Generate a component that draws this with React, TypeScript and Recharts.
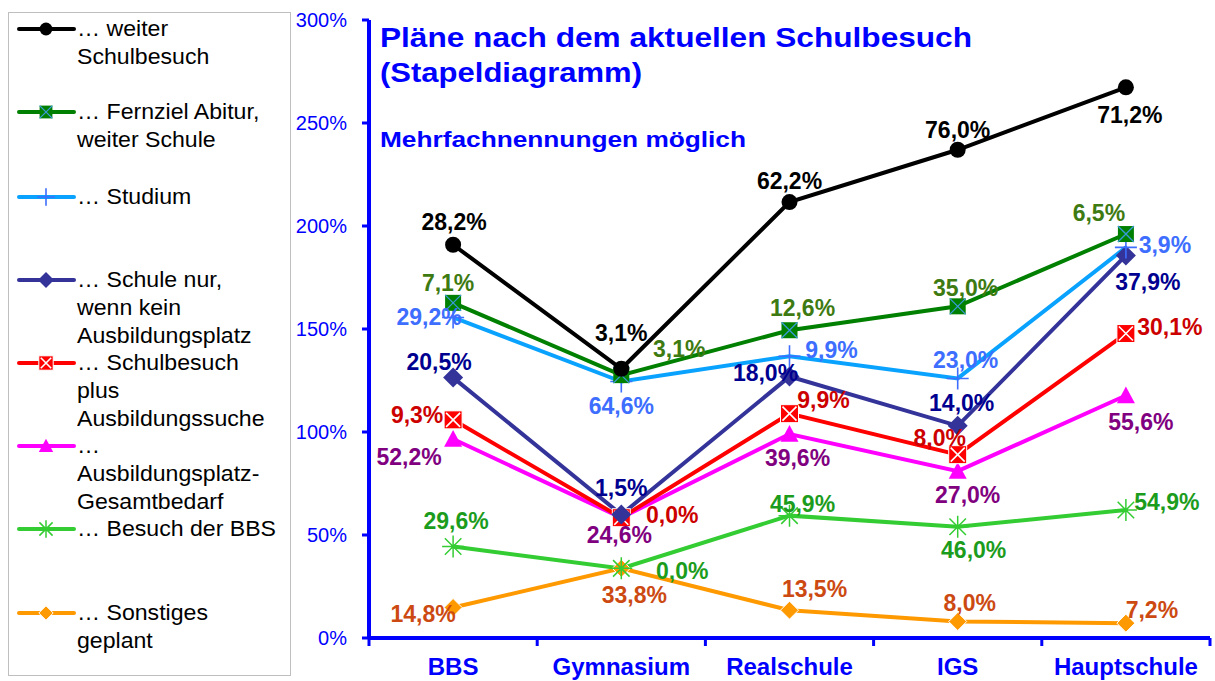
import React from 'react';
import { LineChart, Line, XAxis, YAxis } from 'recharts';

const categories = ['BBS', 'Gymnasium', 'Realschule', 'IGS', 'Hauptschule'];

// Einzelwerte in %, von unten nach oben gestapelt
const sonstiges = [14.8, 33.8, 13.5, 8.0, 7.2];
const besuchBBS = [29.6, 0.0, 45.9, 46.0, 54.9];
const gesamtbedarf = [52.2, 24.6, 39.6, 27.0, 55.6];
const schulbesuchPlus = [9.3, 0.0, 9.9, 8.0, 30.1];
const schuleNur = [20.5, 1.5, 18.0, 14.0, 37.9];
const studium = [29.2, 64.6, 9.9, 23.0, 3.9];
const fernzielAbitur = [7.1, 3.1, 12.6, 35.0, 6.5];
const weiterSchulbesuch = [28.2, 3.1, 62.2, 76.0, 71.2];

const yTicks = [0, 50, 100, 150, 200, 250, 300];

const W = 1215;
const H = 681;
const PLOT_LEFT = 369;
const PLOT_RIGHT = 1210;
const HALF_BAND = (PLOT_RIGHT - PLOT_LEFT) / categories.length / 2;
const BLUE = '#0000FF';
const FONT = '"Liberation Sans", Arial, Helvetica, sans-serif';

type Series = {
  key: string;
  values: number[];
  color: string;
  labelColor: string;
  marker: string;
  legend: string[];
  legendY: number;
};

// Reihenfolge = Stapelreihenfolge (unten zuerst)
const series: Series[] = [
  { key: 'sonstiges', values: sonstiges, color: '#FF9900', labelColor: '#CC4A12', marker: 'smallDiamond', legend: ['… Sonstiges', 'geplant'], legendY: 612 },
  { key: 'besuchBBS', values: besuchBBS, color: '#33CC33', labelColor: '#1C9C1C', marker: 'star', legend: ['… Besuch der BBS'], legendY: 528 },
  { key: 'gesamtbedarf', values: gesamtbedarf, color: '#FF00FF', labelColor: '#800080', marker: 'triangle', legend: ['…', 'Ausbildungsplatz-', 'Gesamtbedarf'], legendY: 445 },
  { key: 'schulbesuchPlus', values: schulbesuchPlus, color: '#FF0000', labelColor: '#CC0000', marker: 'redX', legend: ['… Schulbesuch', 'plus', 'Ausbildungssuche'], legendY: 362 },
  { key: 'schuleNur', values: schuleNur, color: '#333399', labelColor: '#000090', marker: 'diamond', legend: ['… Schule nur,', 'wenn kein', 'Ausbildungsplatz'], legendY: 279 },
  { key: 'studium', values: studium, color: '#0AA2FF', labelColor: '#3D6EFF', marker: 'plus', legend: ['… Studium'], legendY: 196 },
  { key: 'fernzielAbitur', values: fernzielAbitur, color: '#008000', labelColor: '#3E7A12', marker: 'squareX', legend: ['… Fernziel Abitur,', 'weiter Schule'], legendY: 111 },
  { key: 'weiterSchulbesuch', values: weiterSchulbesuch, color: '#000000', labelColor: '#000000', marker: 'circle', legend: ['… weiter', 'Schulbesuch'], legendY: 28 },
];

// Lage der Datenbeschriftungen relativ zum Punkt (Mitte des Texts)
const labelOffsets: Record<string, [number, number][]> = {
  weiterSchulbesuch: [[1, -23], [0, -36], [0, -21], [0, -20], [4, 28]],
  fernzielAbitur: [[-5, -20], [58, -26], [13, -22], [8, -18], [-27, -21]],
  studium: [[-24, 0], [0, 24], [42, -6], [8, -18], [39, -2]],
  schuleNur: [[-14, -16], [0, -27], [-24, -4], [4, -23], [22, 27]],
  schulbesuchPlus: [[-36, -5], [51, -3], [34, -14], [-18, -17], [44, -7]],
  gesamtbedarf: [[-44, 18], [-2, 17], [8, 24], [10, 24], [15, 26]],
  besuchBBS: [[3, -26], [61, 3], [13, -12], [16, 23], [41, -8]],
  sonstiges: [[-30, 6], [13, 27], [25, -21], [12, -19], [26, -13]],
};

const data = categories.map((name, i) => {
  const row: Record<string, any> = { name };
  let sum = 0;
  series.forEach((s) => {
    sum += s.values[i];
    row[s.key] = Math.round(sum * 10) / 10;
  });
  return row;
});

const fmt = (v: number) => v.toFixed(1).replace('.', ',') + '%';

function Marker({ kind, cx, cy, k = 1 }: { kind: string; cx: number; cy: number; k?: number }) {
  if (cx == null || cy == null) return null;
  switch (kind) {
    case 'circle':
      return <circle cx={cx} cy={cy} r={8 * k} fill="#000" />;
    case 'squareX': {
      const h = 8 * k;
      return (
        <g>
          <rect x={cx - h} y={cy - h} width={2 * h} height={2 * h} fill="#008000" />
          <path d={`M${cx - h},${cy - h}L${cx + h},${cy + h}M${cx + h},${cy - h}L${cx - h},${cy + h}`} stroke="#3A9AD9" strokeWidth={1.3} />
        </g>
      );
    }
    case 'plus': {
      const h = 11 * k;
      return <path d={`M${cx - h},${cy}L${cx + h},${cy}M${cx},${cy - h}L${cx},${cy + h}`} stroke="#3D6EFF" strokeWidth={1.6} fill="none" />;
    }
    case 'diamond': {
      const h = 10 * k;
      return <polygon points={`${cx},${cy - h} ${cx + h},${cy} ${cx},${cy + h} ${cx - h},${cy}`} fill="#333399" />;
    }
    case 'redX': {
      const h = 9 * k;
      const g = h - 2;
      return (
        <g>
          <rect x={cx - h} y={cy - h} width={2 * h} height={2 * h} fill="#FF0000" stroke="#fff" strokeWidth={1} />
          <path d={`M${cx - g},${cy - g}L${cx + g},${cy + g}M${cx + g},${cy - g}L${cx - g},${cy + g}`} stroke="#fff" strokeWidth={1.6} />
        </g>
      );
    }
    case 'triangle': {
      const h = 9 * k;
      return <polygon points={`${cx},${cy - h} ${cx + h},${cy + h * 0.85} ${cx - h},${cy + h * 0.85}`} fill="#FF00FF" />;
    }
    case 'star': {
      const h = 11 * k;
      const d = h * 0.75;
      return (
        <path
          d={`M${cx - h},${cy}L${cx + h},${cy}M${cx},${cy - h}L${cx},${cy + h}M${cx - d},${cy - d}L${cx + d},${cy + d}M${cx + d},${cy - d}L${cx - d},${cy + d}`}
          stroke="#33CC33"
          strokeWidth={1.5}
          fill="none"
        />
      );
    }
    case 'smallDiamond': {
      const h = 9 * k;
      return <polygon points={`${cx},${cy - h} ${cx + h},${cy} ${cx},${cy + h} ${cx - h},${cy}`} fill="#FF9900" stroke="#fff" strokeWidth={1} />;
    }
    default:
      return null;
  }
}

function XTick(props: any) {
  const { x, y, payload, index } = props;
  const last = index === categories.length - 1;
  return (
    <g>
      <line x1={x - HALF_BAND} x2={x - HALF_BAND} y1={y} y2={y + 8} stroke={BLUE} strokeWidth={3} />
      {last && <line x1={x + HALF_BAND} x2={x + HALF_BAND} y1={y} y2={y + 8} stroke={BLUE} strokeWidth={3} />}
      <text x={x} y={y + 37} textAnchor="middle" fill={BLUE} fontSize={24} fontWeight="bold" fontFamily={FONT}>
        {payload.value}
      </text>
    </g>
  );
}

function Legend() {
  return (
    <div style={{ position: 'absolute', left: 8, top: 12, width: 283, height: 664, border: '1.5px solid #BFBFBF', boxSizing: 'border-box' }}>
      <svg width={283} height={664} style={{ position: 'absolute', left: 0, top: 0 }}>
        {series.map((s) => (
          <g key={s.key}>
            <line x1={10} x2={65} y1={s.legendY - 12} y2={s.legendY - 12} stroke={s.color} strokeWidth={4} strokeLinecap="round" />
            <Marker kind={s.marker} cx={37} cy={s.legendY - 12} k={0.8} />
          </g>
        ))}
      </svg>
      {series.map((s) => (
        <div
          key={s.key}
          style={{
            position: 'absolute',
            left: 68,
            top: s.legendY - 12 - 14,
            fontSize: 22,
            lineHeight: '28px',
            fontFamily: FONT,
            color: '#000',
            whiteSpace: 'nowrap',
            transform: 'scaleX(1.05)',
            transformOrigin: 'left top',
          }}
        >
          {s.legend.map((t, i) => (
            <div key={i}>{t}</div>
          ))}
        </div>
      ))}
    </div>
  );
}

export default function App() {
  return (
    <div style={{ position: 'absolute', left: 0, top: 0, width: W, height: H, background: '#fff', fontFamily: FONT }}>
      <LineChart width={W} height={H} data={data} margin={{ top: 20, right: W - PLOT_RIGHT, bottom: 0, left: 0 }}>
        <XAxis
          dataKey="name"
          height={43}
          interval={0}
          padding={{ left: HALF_BAND, right: HALF_BAND }}
          axisLine={{ stroke: BLUE, strokeWidth: 4 }}
          tickLine={false}
          tickSize={0}
          tickMargin={0}
          tick={<XTick />}
        />
        <YAxis
          width={PLOT_LEFT}
          domain={[0, 300]}
          ticks={yTicks}
          interval={0}
          tickFormatter={(v: number) => v + '%'}
          axisLine={{ stroke: BLUE, strokeWidth: 4 }}
          tickLine={{ stroke: BLUE, strokeWidth: 3 }}
          tickSize={7}
          tickMargin={15}
          tick={{ fill: BLUE, fontSize: 20, fontFamily: FONT }}
        />
        {series.map((s) => (
          <Line
            key={s.key}
            type="linear"
            dataKey={s.key}
            stroke={s.color}
            strokeWidth={4}
            isAnimationActive={false}
            activeDot={false}
            dot={(p: any) => <Marker key={`${s.key}-${p.index}`} kind={s.marker} cx={p.cx} cy={p.cy} />}
            label={(p: any) => {
              const off = labelOffsets[s.key][p.index] || [0, -20];
              return (
                <text
                  key={`${s.key}-l-${p.index}`}
                  x={p.x + off[0]}
                  y={p.y + off[1]}
                  textAnchor="middle"
                  dominantBaseline="central"
                  fill={s.labelColor}
                  fontSize={23}
                  fontWeight="bold"
                  fontFamily={FONT}
                >
                  {fmt(s.values[p.index])}
                </text>
              );
            }}
          />
        ))}
      </LineChart>
      <svg width={W} height={H} style={{ position: 'absolute', left: 0, top: 0, pointerEvents: 'none' }}>
        <text x={380} y={47} fill={BLUE} fontSize={28} fontWeight="bold" fontFamily={FONT} textLength={592} lengthAdjust="spacingAndGlyphs">
          Pläne nach dem aktuellen Schulbesuch
        </text>
        <text x={380} y={82} fill={BLUE} fontSize={28} fontWeight="bold" fontFamily={FONT} textLength={262} lengthAdjust="spacingAndGlyphs">
          (Stapeldiagramm)
        </text>
        <text x={380} y={147} fill={BLUE} fontSize={22} fontWeight="bold" fontFamily={FONT} textLength={366} lengthAdjust="spacingAndGlyphs">
          Mehrfachnennungen möglich
        </text>
      </svg>
      <Legend />
    </div>
  );
}
